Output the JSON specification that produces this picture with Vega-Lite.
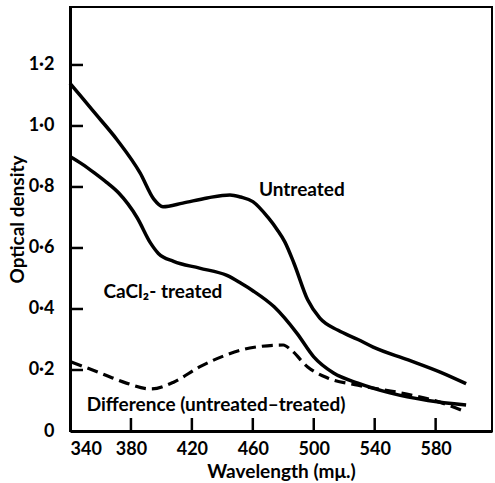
{
  "$schema": "https://vega.github.io/schema/vega-lite/v6.json",
  "width": 422,
  "height": 424,
  "autosize": "none",
  "padding": {"left": 70, "top": 7, "right": 3, "bottom": 52},
  "background": "white",
  "config": {
    "font": "Lato",
    "view": {"stroke": "black", "strokeWidth": 2},
    "axis": {
      "domainColor": "black", "domainWidth": 3,
      "labelColor": "black", "titleColor": "black", "labelFontSize": 18, "titleFontSize": 19,
      "labelFont": "Lato", "titleFont": "Lato", "labelFontWeight": "bold", "titleFontWeight": "bold", "grid": false
    }
  },
  "datasets": {
    "solid": [
      {"series": "Untreated", "wl": 340, "od": 1.14},
      {"series": "Untreated", "wl": 355, "od": 1.05},
      {"series": "Untreated", "wl": 371, "od": 0.954},
      {"series": "Untreated", "wl": 386, "od": 0.846},
      {"series": "Untreated", "wl": 395, "od": 0.76},
      {"series": "Untreated", "wl": 401, "od": 0.735},
      {"series": "Untreated", "wl": 414, "od": 0.747},
      {"series": "Untreated", "wl": 430, "od": 0.764},
      {"series": "Untreated", "wl": 445, "od": 0.774},
      {"series": "Untreated", "wl": 452, "od": 0.767},
      {"series": "Untreated", "wl": 460, "od": 0.752},
      {"series": "Untreated", "wl": 470, "od": 0.70},
      {"series": "Untreated", "wl": 476, "od": 0.66},
      {"series": "Untreated", "wl": 481, "od": 0.62},
      {"series": "Untreated", "wl": 487, "od": 0.55},
      {"series": "Untreated", "wl": 496, "od": 0.43},
      {"series": "Untreated", "wl": 504, "od": 0.37},
      {"series": "Untreated", "wl": 516, "od": 0.33},
      {"series": "Untreated", "wl": 529, "od": 0.30},
      {"series": "Untreated", "wl": 539, "od": 0.275},
      {"series": "Untreated", "wl": 562, "od": 0.233},
      {"series": "Untreated", "wl": 583, "od": 0.193},
      {"series": "Untreated", "wl": 600, "od": 0.155},
      {"series": "Treated", "wl": 340, "od": 0.90},
      {"series": "Treated", "wl": 348, "od": 0.875},
      {"series": "Treated", "wl": 356, "od": 0.846},
      {"series": "Treated", "wl": 364, "od": 0.815},
      {"series": "Treated", "wl": 372, "od": 0.78},
      {"series": "Treated", "wl": 384, "od": 0.70},
      {"series": "Treated", "wl": 393, "od": 0.615},
      {"series": "Treated", "wl": 398, "od": 0.582},
      {"series": "Treated", "wl": 408, "od": 0.556},
      {"series": "Treated", "wl": 425, "od": 0.534},
      {"series": "Treated", "wl": 443, "od": 0.51},
      {"series": "Treated", "wl": 452, "od": 0.485},
      {"series": "Treated", "wl": 460, "od": 0.46},
      {"series": "Treated", "wl": 474, "od": 0.407},
      {"series": "Treated", "wl": 489, "od": 0.32},
      {"series": "Treated", "wl": 500, "od": 0.243},
      {"series": "Treated", "wl": 513, "od": 0.19},
      {"series": "Treated", "wl": 529, "od": 0.157},
      {"series": "Treated", "wl": 550, "od": 0.125},
      {"series": "Treated", "wl": 575, "od": 0.10},
      {"series": "Treated", "wl": 600, "od": 0.085}
    ],
    "dashed": [
      {"series": "Difference", "wl": 341, "od": 0.226},
      {"series": "Difference", "wl": 360, "od": 0.19},
      {"series": "Difference", "wl": 377, "od": 0.157},
      {"series": "Difference", "wl": 393, "od": 0.138},
      {"series": "Difference", "wl": 408, "od": 0.16},
      {"series": "Difference", "wl": 425, "od": 0.21},
      {"series": "Difference", "wl": 443, "od": 0.25},
      {"series": "Difference", "wl": 458, "od": 0.272},
      {"series": "Difference", "wl": 480, "od": 0.282},
      {"series": "Difference", "wl": 485, "od": 0.266},
      {"series": "Difference", "wl": 496, "od": 0.21},
      {"series": "Difference", "wl": 509, "od": 0.174},
      {"series": "Difference", "wl": 529, "od": 0.15},
      {"series": "Difference", "wl": 557, "od": 0.125},
      {"series": "Difference", "wl": 579, "od": 0.10},
      {"series": "Difference", "wl": 600, "od": 0.062}
    ],
    "labels": [
      {"text": "Untreated", "wl": 464, "od": 0.79},
      {"text": "CaCl₂- treated", "wl": 362, "od": 0.456},
      {"text": "Difference (untreated–treated)", "wl": 351, "od": 0.085}
    ],
    "xticks": [{"wl": 380}, {"wl": 420}, {"wl": 460}, {"wl": 500}, {"wl": 540}, {"wl": 580}],
    "yticks": [{"od": 0.2}, {"od": 0.4}, {"od": 0.6}, {"od": 0.8}, {"od": 1.0}, {"od": 1.2}]
  },
  "layer": [
    {
      "data": {"name": "solid"},
      "mark": {"type": "line", "interpolate": "monotone", "color": "black", "strokeWidth": 3.5},
      "encoding": {
        "x": {"field": "wl", "type": "quantitative",
          "scale": {"domain": [340, 617], "nice": false, "zero": false},
          "axis": {"title": "Wavelength (mμ.)", "values": [340, 380, 420, 460, 500, 540, 580],
            "ticks": false, "labelPadding": 9, "titlePadding": 4}},
        "y": {"field": "od", "type": "quantitative",
          "scale": {"domain": [0, 1.39], "nice": false},
          "axis": {"title": "Optical density", "values": [0, 0.2, 0.4, 0.6, 0.8, 1.0, 1.2],
            "ticks": false, "labelPadding": 16, "titlePadding": 1,
            "labelExpr": "datum.value == 0 ? '0' : replace(format(datum.value, '.1f'), '.', '·')"}},
        "detail": {"field": "series"}
      }
    },
    {
      "data": {"name": "dashed"},
      "mark": {"type": "line", "interpolate": "monotone", "color": "black", "strokeWidth": 3.2, "strokeDash": [11, 6]},
      "encoding": {
        "x": {"field": "wl", "type": "quantitative"},
        "y": {"field": "od", "type": "quantitative"}
      }
    },
    {
      "data": {"name": "xticks"},
      "mark": {"type": "tick", "color": "black", "orient": "vertical", "size": 13, "thickness": 2.5, "opacity": 1, "yOffset": -6.5},
      "encoding": {
        "x": {"field": "wl", "type": "quantitative"},
        "y": {"datum": 0, "type": "quantitative"}
      }
    },
    {
      "data": {"name": "yticks"},
      "mark": {"type": "tick", "color": "black", "orient": "horizontal", "size": 13, "thickness": 2.5, "opacity": 1, "xOffset": 6.5},
      "encoding": {
        "y": {"field": "od", "type": "quantitative"},
        "x": {"datum": 340, "type": "quantitative"}
      }
    },
    {
      "data": {"name": "labels"},
      "mark": {"type": "text", "align": "left", "baseline": "middle", "fontSize": 19, "fontWeight": "bold", "font": "Lato", "color": "black"},
      "encoding": {
        "x": {"field": "wl", "type": "quantitative"},
        "y": {"field": "od", "type": "quantitative"},
        "text": {"field": "text"}
      }
    }
  ]
}
